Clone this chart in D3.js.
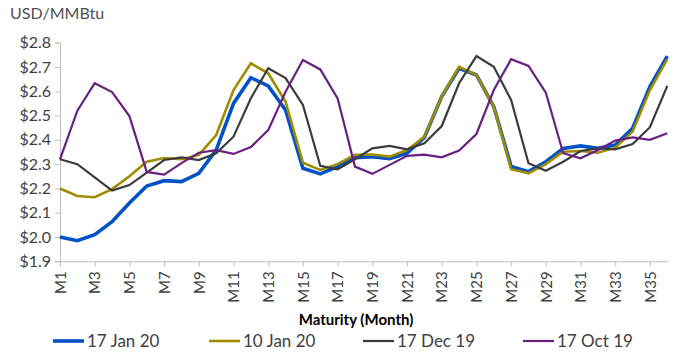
<!DOCTYPE html>
<html>
<head>
<meta charset="utf-8">
<script src="https://cdn.jsdelivr.net/npm/d3@7/dist/d3.min.js"></script>
<style>
html,body{margin:0;padding:0;background:#fff;}
svg{display:block;font-family:Lato, "Open Sans", sans-serif;}
</style>
</head>
<body>
<svg id="chart" width="676" height="353"></svg>
<script>
const months = d3.range(1, 37).map(i => "M" + i);
const seriesNames = ["17 Jan 20", "10 Jan 20", "17 Dec 19", "17 Oct 19"];
const jan17 = [2.00,1.985,2.01,2.063,2.14,2.21,2.232,2.228,2.262,2.358,2.55,2.656,2.622,2.523,2.283,2.26,2.29,2.326,2.331,2.323,2.345,2.41,2.578,2.695,2.667,2.537,2.29,2.269,2.31,2.365,2.375,2.365,2.379,2.448,2.619,2.745];
const jan10 = [2.20,2.169,2.164,2.197,2.25,2.31,2.325,2.32,2.338,2.42,2.605,2.715,2.674,2.557,2.306,2.276,2.30,2.338,2.34,2.331,2.358,2.413,2.578,2.701,2.667,2.537,2.279,2.262,2.30,2.351,2.354,2.347,2.368,2.434,2.605,2.732];
const dec17 = [2.32,2.30,2.246,2.191,2.214,2.265,2.317,2.328,2.317,2.345,2.413,2.571,2.695,2.654,2.544,2.293,2.279,2.32,2.365,2.375,2.361,2.386,2.457,2.633,2.745,2.701,2.564,2.304,2.273,2.31,2.354,2.365,2.361,2.383,2.452,2.622];
const oct17 = [2.32,2.52,2.633,2.597,2.498,2.268,2.257,2.304,2.347,2.358,2.342,2.37,2.44,2.598,2.729,2.69,2.571,2.29,2.26,2.297,2.334,2.339,2.328,2.356,2.424,2.605,2.732,2.704,2.594,2.345,2.324,2.358,2.397,2.41,2.40,2.427];
const yTicks = [1.9,2.0,2.1,2.2,2.3,2.4,2.5,2.6,2.7,2.8];
const xTickLabels = months.filter((m, i) => i % 2 === 0);
const yTitle = "USD/MMBtu";
const xTitle = "Maturity (Month)";

const colors = ["#0052C6", "#A08C00", "#3C3C3C", "#6A2080"];
const widths = [3.6, 2.6, 2.2, 2.2];
const data = [jan17, jan10, dec17, oct17];

const svg = d3.select("#chart");
const x = d3.scalePoint().domain(months).range([60, 667.3]);
const y = d3.scaleLinear().domain([1.9, 2.8]).range([261.3, 42.7]);

// title
svg.append("text").attr("x", 10).attr("y", 19).attr("font-size", 16).attr("fill", "#505050").text(yTitle);

// y axis
const yAxis = svg.append("g").attr("transform", "translate(60,0)")
  .call(d3.axisLeft(y).tickValues(yTicks).tickSize(5).tickPadding(4).tickFormat(d => "$" + d3.format(".1f")(d)));
yAxis.select(".domain").attr("stroke", "#BFBFBF");
yAxis.selectAll(".tick line").attr("stroke", "#BFBFBF");
yAxis.selectAll("text").attr("font-size", 16).attr("fill", "#404040").attr("font-family", "Lato, sans-serif");

// x axis
const xAxis = svg.append("g").attr("transform", "translate(0," + y(1.9) + ")")
  .call(d3.axisBottom(x).tickValues(xTickLabels).tickSize(5).tickSizeOuter(0));
xAxis.select(".domain").attr("stroke", "#BFBFBF").attr("d", "M60,0.5H668");
xAxis.selectAll(".tick line").attr("stroke", "#BFBFBF");
xAxis.selectAll("text")
  .attr("font-size", 15).attr("fill", "#404040").attr("font-family", "Lato, sans-serif")
  .attr("text-anchor", "end").attr("transform", "rotate(-90)")
  .attr("x", -10).attr("y", 0).attr("dy", "0.35em");

// x title
svg.append("text").attr("x", 356).attr("y", 325).attr("text-anchor", "middle")
  .attr("font-size", 15).attr("font-weight", "bold").attr("fill", "#000").text(xTitle);

// lines
const line = d3.line().x((d, i) => x(months[i])).y(d => y(d));
data.forEach((s, k) => {
  svg.append("path").datum(s).attr("d", line).attr("fill", "none")
    .attr("stroke", colors[k]).attr("stroke-width", widths[k]).attr("stroke-linejoin", "miter");
});

// legend
const legX = [53, 209, 363, 523];
seriesNames.forEach((n, k) => {
  const g = svg.append("g").attr("transform", "translate(" + legX[k] + ",341)");
  g.append("line").attr("x1", 0).attr("x2", 31).attr("y1", 0).attr("y2", 0)
    .attr("stroke", colors[k]).attr("stroke-width", widths[k]);
  g.append("text").attr("x", 34).attr("y", 0).attr("dy", "0.36em")
    .attr("font-size", 17).attr("fill", "#404040").text(n);
});
</script>
</body>
</html>
